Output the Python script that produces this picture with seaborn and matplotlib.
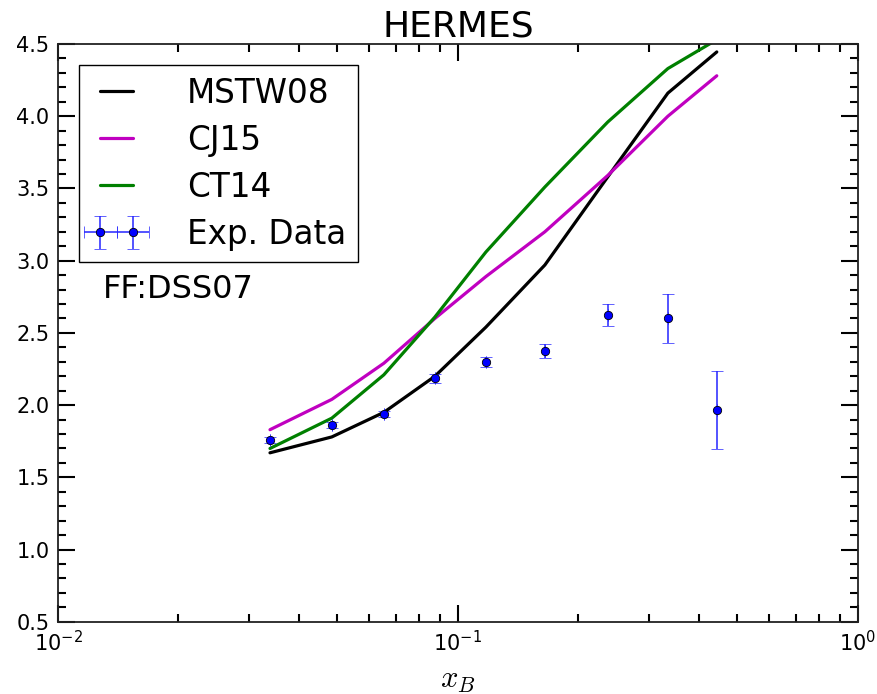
import numpy as np
import pandas as pd
import matplotlib
matplotlib.use("Agg")
import matplotlib.pyplot as plt
import seaborn as sns
from matplotlib.ticker import MultipleLocator, FormatStrFormatter, LogLocator

# ---- data ----
x_theory = [0.0339, 0.0484, 0.0653, 0.0876, 0.1175, 0.165, 0.237, 0.335, 0.444]
mstw08 = [1.67, 1.78, 1.95, 2.20, 2.54, 2.97, 3.58, 4.16, 4.445]
cj15 = [1.83, 2.04, 2.29, 2.60, 2.89, 3.20, 3.59, 4.00, 4.28]
ct14 = [1.70, 1.91, 2.21, 2.61, 3.06, 3.51, 3.96, 4.33, 4.53]

x_data = [0.0339, 0.0484, 0.0653, 0.0876, 0.1175, 0.165, 0.237, 0.335, 0.444]
y_data = [1.76, 1.86, 1.94, 2.185, 2.30, 2.375, 2.625, 2.60, 1.965]
y_err = [0.02, 0.02, 0.02, 0.03, 0.035, 0.048, 0.076, 0.172, 0.268]

series_names = ["MSTW08", "CJ15", "CT14"]
series_colors = ["black", "#c000c0", "green"]

sns.set_style("ticks")
plt.rcParams['font.family'] = ['DejaVu Sans']
plt.rcParams['mathtext.fontset'] = 'cm'
plt.rcParams['text.color'] = 'black'
plt.rcParams['axes.labelcolor'] = 'black'
plt.rcParams['xtick.color'] = 'black'
plt.rcParams['ytick.color'] = 'black'

df = pd.DataFrame({
    "x": x_theory * 3,
    "y": mstw08 + cj15 + ct14,
    "pdf": sum([[n] * len(x_theory) for n in series_names], []),
})

fig = plt.figure(figsize=(8.78, 6.94), dpi=100)
ax = fig.add_axes([0.066, 0.104, 0.911, 0.8326])

sns.lineplot(data=df, x="x", y="y", hue="pdf", hue_order=series_names,
             palette=dict(zip(series_names, series_colors)),
             estimator=None, sort=False, linewidth=2.3, ax=ax, legend=True)

ax.errorbar(x_data, y_data, yerr=y_err, xerr=[0] * len(x_data), fmt='o',
            color='blue', ecolor=(0.15, 0.15, 1.0, 0.85), markersize=6,
            markeredgecolor='black', markeredgewidth=0.6,
            elinewidth=1.3, capsize=4, capthick=1.3, label="Exp. Data")

ax.set_xscale("log")
ax.set_xlim(0.01, 1.0)
ax.set_ylim(0.5, 4.5)
ax.yaxis.set_major_locator(MultipleLocator(0.5))
ax.yaxis.set_minor_locator(MultipleLocator(0.1))
ax.yaxis.set_major_formatter(FormatStrFormatter("%.1f"))
ax.xaxis.set_major_locator(LogLocator(base=10, numticks=10))
ax.xaxis.set_minor_locator(LogLocator(base=10, subs=np.arange(2, 10), numticks=20))

ax.tick_params(which='both', direction='in', top=True, right=True, width=1.5, colors='black')
ax.tick_params(which='major', length=12, labelsize=15, pad=6)
ax.tick_params(which='minor', length=6)
for s in ax.spines.values():
    s.set_linewidth(1.3)
    s.set_color('#222222')

ax.set_xlabel(r"$x_B$", fontsize=22, labelpad=8)
ax.set_ylabel("")
ax.set_title("HERMES", fontsize=26, pad=5, color='black')

handles, labels = ax.get_legend_handles_labels()
order = [labels.index(name) for name in series_names + ["Exp. Data"]]
leg = ax.legend([handles[i] for i in order], [labels[i] for i in order],
                loc='upper left', fontsize=23.5, numpoints=2, fancybox=False,
                framealpha=1, edgecolor='black', handlelength=1.6,
                borderpad=0.35, labelspacing=0.43, handletextpad=1.35,
                borderaxespad=0.65, title=None)
leg.get_frame().set_linewidth(1.0)
for t in leg.get_texts():
    t.set_color('black')

ax.text(0.056, 0.575, "FF:DSS07", transform=ax.transAxes, fontsize=23,
        va='center', ha='left', color='black')

fig.savefig("out.png", dpi=100)
